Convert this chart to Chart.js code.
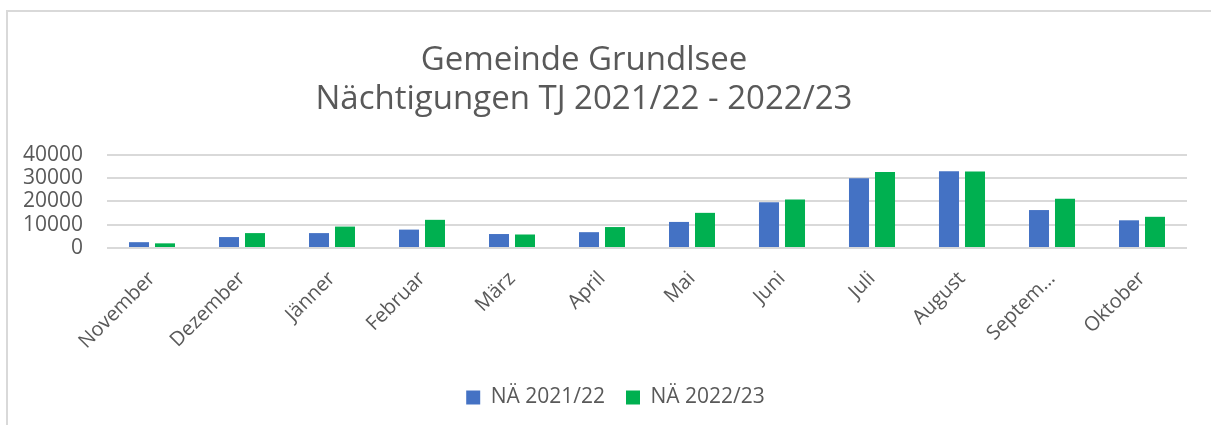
<!DOCTYPE html>
<html lang="de">
<head>
    <meta charset="UTF-8">
    <title>Gemeinde Grundlsee</title>
    <script src="https://cdn.jsdelivr.net/npm/chart.js"></script>
    <style>
        body {
            margin: 0;
            background-color: #fff;
            overflow: hidden;
        }
        #frame {
            position: absolute;
            left: 6px;
            top: 10px;
            width: 1203px;
            height: 413px;
            border-left: 2px solid #d9d9d9;
            border-top: 2px solid #d9d9d9;
        }
    </style>
</head>
<body>
    <div id="frame">
        <canvas id="chart"></canvas>
    </div>
    <script>
        const titleLines = ['Gemeinde Grundlsee', 'Nächtigungen TJ 2021/22 - 2022/23'];
        const months = ['November', 'Dezember', 'Jänner', 'Februar', 'März', 'April',
                        'Mai', 'Juni', 'Juli', 'August', 'September', 'Oktober'];
        const seriesNames = ['NÄ 2021/22', 'NÄ 2022/23'];
        // Nächtigungen pro Monat
        const naechte2122 = [2500, 4700, 6400, 7900, 6000, 6800, 11200, 19700, 30000, 33000, 16300, 11900];
        const naechte2223 = [2000, 6400, 9200, 12100, 5800, 9000, 15100, 20800, 32600, 32900, 21200, 13400];
        const yMin = 0, yMax = 40000, yStep = 10000;

        const textColor = '#595959';
        const gridColor = '#d9d9d9';

        // Titel etwas nach links, Legende etwas nach rechts, wie im Original
        const shiftBlocks = {
            id: 'shiftBlocks',
            afterLayout(chart) {
                if (chart.titleBlock) chart.titleBlock.left -= 27;
                if (chart.legend) {
                    chart.legend.left += 18;
                    chart.legend.right += 18;
                }
            }
        };

        new Chart(document.getElementById('chart').getContext('2d'), {
            type: 'bar',
            data: {
                labels: months,
                datasets: [{
                    label: seriesNames[0],
                    data: naechte2122,
                    backgroundColor: '#4472c4',
                    categoryPercentage: 0.578,
                    barPercentage: 0.77
                }, {
                    label: seriesNames[1],
                    data: naechte2223,
                    backgroundColor: '#00b050',
                    categoryPercentage: 0.578,
                    barPercentage: 0.77
                }]
            },
            options: {
                responsive: true,
                maintainAspectRatio: false,
                animation: false,
                layout: {
                    padding: { left: 0, right: 24, top: 0, bottom: 7 }
                },
                plugins: {
                    title: {
                        display: true,
                        text: titleLines,
                        color: textColor,
                        font: { family: 'Open Sans', size: 33, weight: 'normal', lineHeight: 1.18 },
                        padding: { top: 29, bottom: 36 }
                    },
                    legend: {
                        position: 'bottom',
                        labels: {
                            color: textColor,
                            font: { family: 'Open Sans', size: 21 },
                            boxWidth: 14,
                            boxHeight: 14,
                            padding: 21
                        }
                    },
                    tooltip: { enabled: false }
                },
                scales: {
                    x: {
                        grid: { display: false },
                        border: { display: false },
                        ticks: {
                            color: textColor,
                            font: { family: 'Open Sans', size: 20 },
                            minRotation: 45,
                            maxRotation: 45,
                            padding: 11,
                            callback: function (value) {
                                const name = this.getLabelForValue(value);
                                return name.length > 8 ? name.slice(0, 6) + '…' : name;
                            }
                        },
                        afterFit(scale) { scale.height = 118; }
                    },
                    y: {
                        min: yMin,
                        max: yMax,
                        grid: { color: gridColor, lineWidth: 2, drawTicks: false },
                        border: { display: false },
                        ticks: {
                            stepSize: yStep,
                            autoSkip: false,
                            color: textColor,
                            font: { family: 'Open Sans', size: 21 },
                            padding: 24,
                            callback: value => String(value)
                        },
                        afterFit(scale) { scale.width = 99; }
                    }
                }
            },
            plugins: [shiftBlocks]
        });
    </script>
</body>
</html>
